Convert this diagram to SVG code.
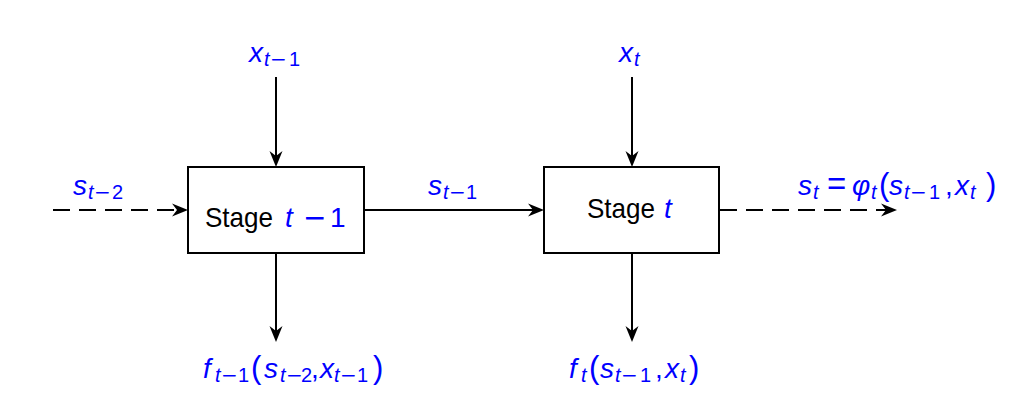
<svg xmlns="http://www.w3.org/2000/svg" width="1020" height="420" viewBox="0 0 1020 420">
<style>
  text { font-family: "Liberation Sans", Arial, sans-serif; }
  .lbl { fill: #0000FF; font-size: 28px; }
  .it { font-style: italic; }
  .sub { font-size: 20px; }
  .mi { font-family: "DejaVu Sans", sans-serif; font-style: normal; }
  .par { font-size: 31px; }
  .stage { fill: #000000; font-size: 28px; }
  .box { fill: #FFFFFF; stroke: #000000; stroke-width: 2; }
  .edge { fill: none; stroke: #000000; stroke-width: 2; }
  .dash { stroke-dasharray: 17 9; }
</style>
<defs>
  <marker id="arr" markerUnits="userSpaceOnUse" viewBox="-11 -7 18 14" markerWidth="18" markerHeight="14" refX="0" refY="0" orient="auto">
    <path d="M6,0 L-10,-6.5 L-5,0 L-10,6.5 Z" fill="#000000"/>
  </marker>
</defs>
<rect width="1020" height="420" fill="#FFFFFF"/>

<g id="connectors">
  <path class="edge dash" d="M53,210 H182" marker-end="url(#arr)"/>
  <path class="edge" d="M364,210 H538" marker-end="url(#arr)"/>
  <path class="edge dash" d="M720,210 H891" marker-end="url(#arr)"/>
  <path class="edge" d="M276,77 V161" marker-end="url(#arr)"/>
  <path class="edge" d="M632,77 V161" marker-end="url(#arr)"/>
  <path class="edge" d="M276,253 V336" marker-end="url(#arr)"/>
  <path class="edge" d="M632,253 V336" marker-end="url(#arr)"/>
</g>

<g id="stage-t-1">
  <rect class="box" x="188" y="167" width="176" height="86"/>
  <text class="stage" y="227"><tspan x="205" textLength="68" lengthAdjust="spacingAndGlyphs">Stage</tspan><tspan class="lbl it" x="285">t</tspan><tspan class="lbl mi" x="303">−</tspan><tspan class="lbl" x="330">1</tspan></text>
</g>

<g id="stage-t">
  <rect class="box" x="544" y="167" width="175" height="86"/>
  <text class="stage" y="218"><tspan x="587" textLength="68" lengthAdjust="spacingAndGlyphs">Stage</tspan><tspan class="lbl it" x="664">t</tspan></text>
</g>

<g id="label-x-t-1">
  <text class="lbl"><tspan class="it" x="249" y="62">x</tspan><tspan class="sub it" x="264" y="66">t</tspan><tspan class="sub mi" x="270" y="66">−</tspan><tspan class="sub" x="289" y="66">1</tspan></text>
</g>

<g id="label-x-t">
  <text class="lbl"><tspan class="it" x="619" y="62">x</tspan><tspan class="sub it" x="634" y="66">t</tspan></text>
</g>

<g id="label-s-t-2">
  <text class="lbl"><tspan class="it" x="73" y="195">s</tspan><tspan class="sub it" x="88" y="199">t</tspan><tspan class="sub mi" x="94" y="199">−</tspan><tspan class="sub" x="112" y="199">2</tspan></text>
</g>

<g id="label-s-t-1">
  <text class="lbl"><tspan class="it" x="428" y="195">s</tspan><tspan class="sub it" x="443" y="199">t</tspan><tspan class="sub mi" x="449" y="199">−</tspan><tspan class="sub" x="466" y="199">1</tspan></text>
</g>

<g id="label-s-t">
  <text class="lbl"><tspan class="it" x="798" y="195">s</tspan><tspan class="sub it" x="813" y="199">t</tspan><tspan x="827" y="195" style="font-size:33px">=</tspan><tspan class="it" x="852" y="195">φ</tspan><tspan class="sub it" x="871" y="199">t</tspan><tspan class="par" x="879" y="195">(</tspan><tspan class="it" x="889" y="195">s</tspan><tspan class="sub it" x="904" y="199">t</tspan><tspan class="sub mi" x="910" y="199">−</tspan><tspan class="sub" x="929" y="199">1</tspan><tspan x="945" y="195">,</tspan><tspan class="it" x="955" y="195">x</tspan><tspan class="sub it" x="970" y="199">t</tspan><tspan class="par" x="986" y="195">)</tspan></text>
</g>

<g id="label-f-t-1">
  <text class="lbl"><tspan class="it" x="203" y="378">f</tspan><tspan class="sub it" x="215" y="382">t</tspan><tspan class="sub mi" x="221" y="382">−</tspan><tspan class="sub" x="238" y="382">1</tspan><tspan class="par" x="251" y="378">(</tspan><tspan class="it" x="264" y="378">s</tspan><tspan class="sub it" x="280" y="382">t</tspan><tspan class="sub mi" x="286" y="382">−</tspan><tspan class="sub" x="301" y="382">2</tspan><tspan x="311" y="378">,</tspan><tspan class="it" x="320" y="378">x</tspan><tspan class="sub it" x="334" y="382">t</tspan><tspan class="sub mi" x="340" y="382">−</tspan><tspan class="sub" x="357" y="382">1</tspan><tspan class="par" x="373" y="378">)</tspan></text>
</g>

<g id="label-f-t">
  <text class="lbl"><tspan class="it" x="569" y="378">f</tspan><tspan class="sub it" x="581" y="382">t</tspan><tspan class="par" x="589" y="378">(</tspan><tspan class="it" x="600" y="378">s</tspan><tspan class="sub it" x="615" y="382">t</tspan><tspan class="sub mi" x="621" y="382">−</tspan><tspan class="sub" x="640" y="382">1</tspan><tspan x="655" y="378">,</tspan><tspan class="it" x="665" y="378">x</tspan><tspan class="sub it" x="680" y="382">t</tspan><tspan class="par" x="689" y="378">)</tspan></text>
</g>
</svg>
